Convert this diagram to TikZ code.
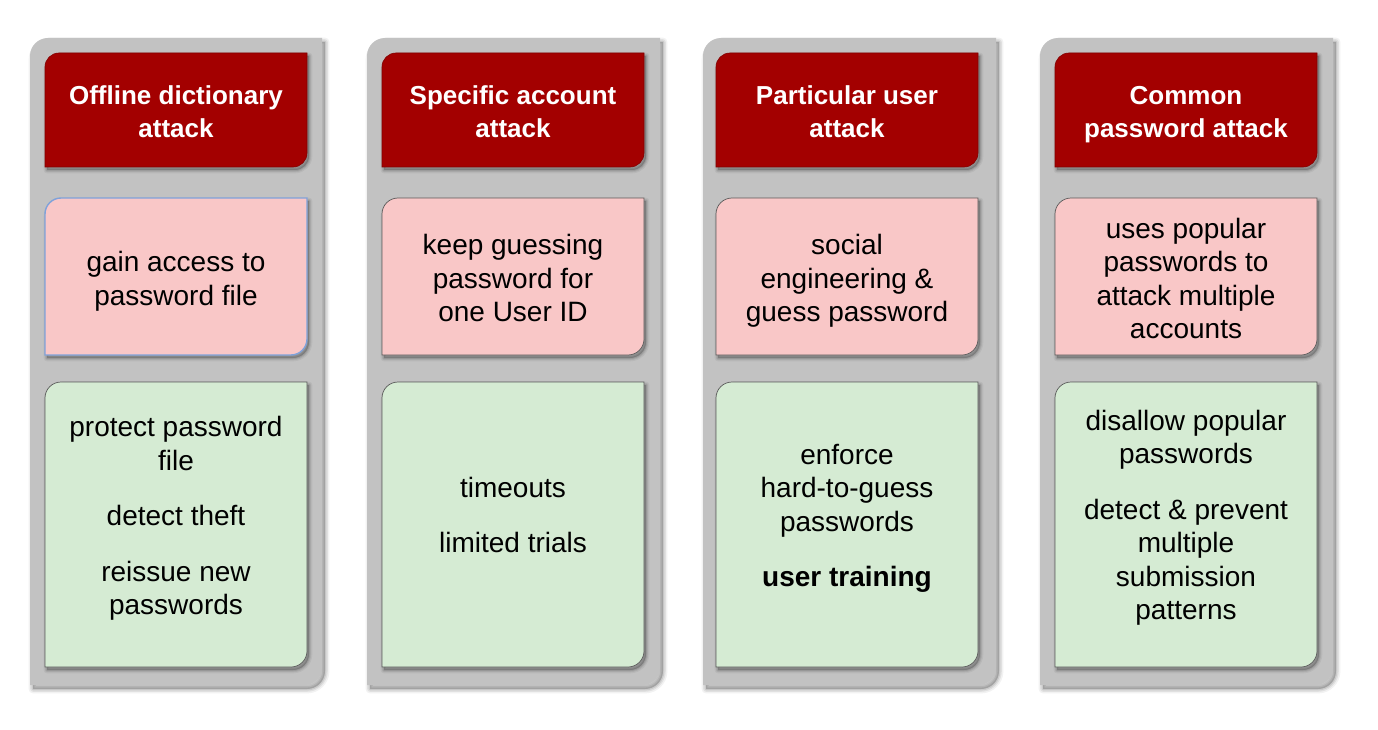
\documentclass[tikz,border=0pt]{standalone}
\usepackage{fontspec}
\setmainfont{Liberation Sans}
\definecolor{hdr}{HTML}{A30000}
\definecolor{pinkf}{HTML}{F9C7C7}
\definecolor{greenf}{HTML}{D5EBD3}
\definecolor{panelg}{HTML}{C2C2C2}
\definecolor{selblue}{HTML}{7FA2DA}
\definecolor{edgeg}{HTML}{5A5A5A}
\newcommand\tlbr[3]{\path[#3] (#1.south west) -- ([yshift=-#2]#1.north west) arc[start angle=180,end angle=90,radius=#2] -- (#1.north east) -- ([yshift=#2]#1.south east) arc[start angle=0,end angle=-90,radius=#2] -- cycle;}
\newcommand\shadowof[4]{%
  \begin{scope}[transform canvas={shift={(#3)}}]
    \tlbr{#1}{#2}{draw=black,line width=#4*2.2,draw opacity=0.05,line join=round}
    \tlbr{#1}{#2}{draw=black,line width=#4*1.4,draw opacity=0.07,line join=round}
    \tlbr{#1}{#2}{draw=black,line width=#4*0.7,draw opacity=0.09,line join=round}
    \tlbr{#1}{#2}{fill=black,fill opacity=0.2}
  \end{scope}}
\tikzset{
  frame/.style={rectangle,draw=none,inner sep=0pt,outer sep=0pt,anchor=north west},
  head/.style={text=white,font=\fontsize{26}{33}\selectfont\bfseries,align=center,inner sep=0pt},
  body/.style={text=black,font=\fontsize{28}{33.5}\selectfont,align=center,inner sep=0pt}
}
\begin{document}
\begin{tikzpicture}[x=1pt,y=1pt]
\fill[white] (0,0) rectangle (1378,-730);
\useasboundingbox (0,0) rectangle (1378,-730);
% panels
\node[frame,minimum width=292pt,minimum height=647pt] (p1) at (30,-38) {};
\node[frame,minimum width=293pt,minimum height=647pt] (p2) at (367,-38) {};
\node[frame,minimum width=293pt,minimum height=647pt] (p3) at (703,-38) {};
\node[frame,minimum width=293pt,minimum height=647pt] (p4) at (1040,-38) {};
% boxes
\foreach \i/\x in {1/45,2/382,3/716,4/1055}{
  \node[frame,minimum width=262pt,minimum height=114pt] (h\i) at (\x,-53) {};
  \node[frame,minimum width=262pt,minimum height=157pt] (r\i) at (\x,-198) {};
  \node[frame,minimum width=262pt,minimum height=285pt] (g\i) at (\x,-382) {};
}
% panel shapes
\foreach \i in {1,2,3,4}{
  \shadowof{p\i}{18pt}{3pt,-4pt}{4pt}
  \tlbr{p\i}{18pt}{fill=panelg}
}
% box shapes
\foreach \i in {1,2,3,4}{
  \shadowof{h\i}{14pt}{2pt,-3pt}{3pt}
  \shadowof{r\i}{16pt}{2pt,-3pt}{3pt}
  \shadowof{g\i}{16pt}{2pt,-3pt}{3pt}
  \tlbr{h\i}{14pt}{fill=hdr,draw=hdr!80!black,line width=0.6pt}
  \tlbr{g\i}{16pt}{fill=greenf,draw=edgeg,line width=0.7pt}
}
\tlbr{r1}{16pt}{fill=pinkf,draw=selblue,line width=1.4pt}
\foreach \i in {2,3,4}{
  \tlbr{r\i}{16pt}{fill=pinkf,draw=edgeg,line width=0.7pt}
}
% header texts
\node[head] (th1) at ([yshift=-1.5pt]h1.center) {Offline dictionary\\attack};
\node[head] (th2) at ([yshift=-1.5pt]h2.center) {Specific account\\attack};
\node[head] (th3) at ([yshift=-1.5pt]h3.center) {Particular user\\attack};
\node[head] (th4) at ([yshift=-4.5pt]h4.center) {Common\\password attack};
% pink texts
\node[body] (tr1) at ([yshift=-5pt]r1.center) {gain access to\\password file};
\node[body] (tr2) at ([yshift=-1.5pt]r2.center) {keep guessing\\password for\\one User ID};
\node[body] (tr3) at ([yshift=-4.5pt]r3.center) {social\\engineering \&\\guess password};
\node[body] (tr4) at ([yshift=-2pt]r4.center) {uses popular\\passwords to\\attack multiple\\accounts};
% green texts
\node[body] (tg1) at ([yshift=6pt]g1.center) {protect password\\file\\[22pt]detect theft\\[22pt]reissue new\\passwords};
\node[body] (tg2) at ([yshift=9.5pt]g2.center) {timeouts\\[21pt]limited trials};
\node[body] (tg3) at ([yshift=6pt]g3.center) {enforce\\hard-to-guess\\passwords\\[22pt]\textbf{user training}};
\node[body] (tg4) at ([yshift=6.5pt]g4.center) {disallow popular\\passwords\\[22pt]detect \& prevent\\multiple\\submission\\patterns};
\end{tikzpicture}
\end{document}
